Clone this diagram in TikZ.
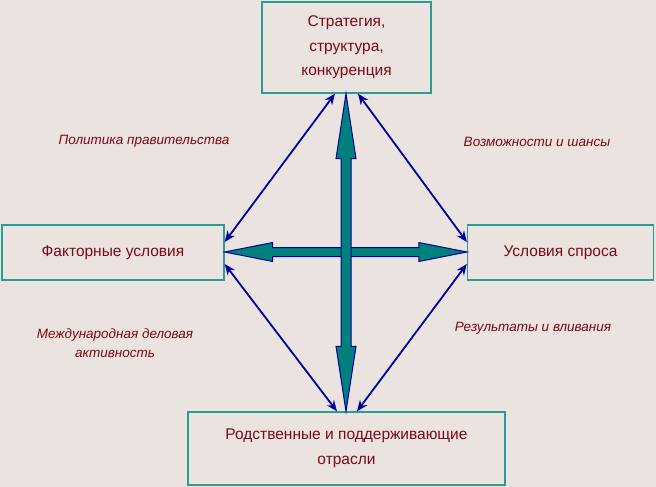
\documentclass[tikz,border=0pt]{standalone}
\usepackage{fontspec}
\setmainfont{Liberation Sans}
\usetikzlibrary{arrows.meta,calc}
\definecolor{bg}{HTML}{EBE3DF}
\definecolor{boxline}{HTML}{2E9A94}
\definecolor{txt}{HTML}{7A0A14}
\definecolor{navy}{HTML}{00009A}
\definecolor{teal}{HTML}{00807C}
\begin{document}
\begin{tikzpicture}[x=1pt,y=-1pt,
  box/.style={draw=boxline,line width=1.3pt,fill=bg,text=txt,align=center,inner sep=0pt,font=\fontsize{15.5}{24.5}\selectfont},
  lbl/.style={text=txt,align=center,font=\fontsize{13.5}{19.5}\selectfont\itshape},
  thin/.style={draw=navy,line width=1.8pt,{Stealth[length=11pt,width=9pt]}-{Stealth[length=11pt,width=9pt]}},
  big/.style={fill=teal,draw=navy,line width=1pt,line join=miter}]
\fill[bg] (0,0) rectangle (656,487);
\useasboundingbox (0,0) rectangle (656,487);
\node[box,minimum width=169pt,minimum height=91pt] (top) at (346.5,47.5) {Стратегия,\\структура,\\конкуренция};
\node[box,minimum width=222pt,minimum height=55pt] (left) at (113,252.5) {Факторные условия};
\node[box,minimum width=186pt,minimum height=55pt] (right) at (560.5,252.5) {Условия спроса};
\node[box,minimum width=317pt,minimum height=73pt] (bottom) at (346.5,448.5) {Родственные и поддерживающие\\отрасли};
% label texts
\node[lbl] (l1) at (144,141) {Политика правительства};
\node[lbl] (l2) at (537,142) {Возможности и шансы};
\node[lbl] (l3) at (115,343) {Международная деловая\\активность};
\node[lbl] (l4) at (533,328) {Результаты и вливания};
% anchor points
\coordinate (tA) at (top.south -| 335,0);
\coordinate (tB) at (top.south -| 358,0);
\coordinate (tC) at (top.south -| 346,0);
\coordinate (bA) at (bottom.north -| 337,0);
\coordinate (bB) at (bottom.north -| 357,0);
\coordinate (bC) at (bottom.north -| 346,0);
\coordinate (lA) at (left.east |- 0,242);
\coordinate (lB) at (left.east |- 0,264);
\coordinate (lC) at (left.east |- 0,252);
\coordinate (rA) at (right.west |- 0,242);
\coordinate (rB) at (right.west |- 0,264);
\coordinate (rC) at (right.west |- 0,252);
% thin arrows
\draw[thin] (tA) -- (lA);
\draw[thin] (tB) -- (rA);
\draw[thin] (lB) -- (bA);
\draw[thin] (rB) -- (bB);
% horizontal big arrow
\draw[big] (lC) -- ($(lC)+(48,-9.5)$) -- ($(lC)+(48,-4.5)$) -- ($(rC)+(-48,-4.5)$) -- ($(rC)+(-48,-9.5)$) -- (rC)
  -- ($(rC)+(-48,9.5)$) -- ($(rC)+(-48,4.5)$) -- ($(lC)+(48,4.5)$) -- ($(lC)+(48,9.5)$) -- cycle;
% vertical big arrow
\draw[big] (tC) -- ($(tC)+(10,65)$) -- ($(tC)+(5,65)$) -- ($(bC)+(5,-65)$) -- ($(bC)+(10,-65)$) -- (bC)
  -- ($(bC)+(-10,-65)$) -- ($(bC)+(-5,-65)$) -- ($(tC)+(-5,65)$) -- ($(tC)+(-10,65)$) -- cycle;
\end{tikzpicture}
\end{document}
